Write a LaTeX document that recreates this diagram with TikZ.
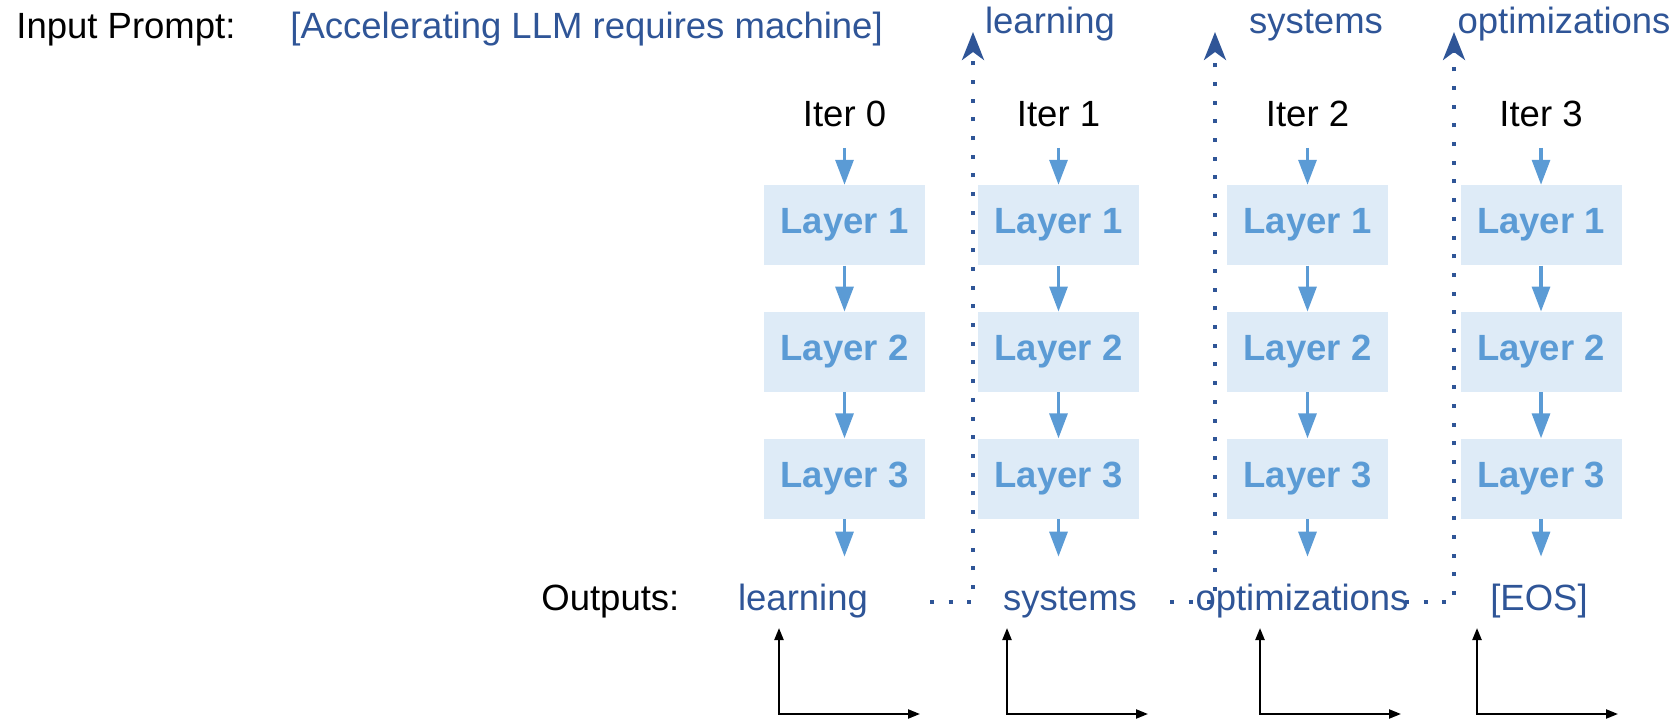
\documentclass[tikz,border=0pt]{standalone}
\usepackage{fontspec}
\setmainfont{Liberation Sans}
\usepackage{xcolor}
\usetikzlibrary{arrows.meta,positioning}

\definecolor{layerfill}{HTML}{DEEBF7}
\definecolor{layerblue}{HTML}{5B9BD5}
\definecolor{tokenblue}{HTML}{2F5597}

\begin{document}
\begin{tikzpicture}[
    x=0.5pt, y=-0.5pt,
    node distance=23pt,
    plaintext/.style={font=\fontsize{18.25}{22}\selectfont, inner sep=0pt, anchor=base},
    token/.style={plaintext, text=tokenblue},
    layer/.style={rectangle, fill=layerfill, text=layerblue, font=\fontsize{18.25}{22}\selectfont\bfseries, minimum width=80.5pt, minimum height=40pt, inner sep=0pt},
    flow/.style={-{Triangle[length=12.5pt, width=9pt]}, draw=layerblue, line width=1.6pt},
    feedback/.style={-{Stealth[length=14pt, width=11pt, inset=4pt]}, draw=tokenblue, line width=2pt, dash pattern=on 2pt off 7.35pt},
    axis/.style={{Triangle[length=6pt, width=4.5pt]}-{Triangle[length=6pt, width=4.5pt]}, line width=1.1pt}
]
\useasboundingbox (0,0) rectangle (1680,721);

% prompt and generated tokens
\node[plaintext, anchor=base west] (prompt) at (16,39) {Input Prompt:};
\node[token, anchor=base west] (ctx) at (290,39) {[Accelerating LLM requires machine]};
\node[token] (in1) at (1050,34) {learning};
\node[token] (in2) at (1316,34) {systems};
\node[token] (in3) at (1564,34) {optimizations};
\node[plaintext, anchor=base west] (outputs) at (541,610) {Outputs:};

% one column per iteration
\foreach \i/\x/\ox/\tok in {0/844.5/803/learning, 1/1058.5/1070/systems, 2/1307.5/1302/optimizations, 3/1541/1539/{[EOS]}} {
    \node[plaintext] (iter\i) at (\x,127) {Iter \i};
    \node[layer, below=28.5pt of iter\i] (lay1-\i) {Layer 1};
    \node[layer, below=of lay1-\i] (lay2-\i) {Layer 2};
    \node[layer, below=of lay2-\i] (lay3-\i) {Layer 3};
    \node[token, text height=13.5pt, text depth=4pt] (out\i) at (\ox,610) {\tok};
    \draw[flow, shorten <=10pt] (iter\i) -- (lay1-\i);
    \draw[flow] (lay1-\i) -- (lay2-\i);
    \draw[flow] (lay2-\i) -- (lay3-\i);
    \draw[flow, shorten >=13pt] (lay3-\i) -- (lay3-\i |- out\i.north);
}

% dotted feedback of each new token
\foreach \i/\s/\c in {1/930/973, 2/1170/1215, 3/1405/1454} {
    \coordinate (fb\i) at (\s,602);
    \coordinate (up\i) at (\c,32);
    \draw[feedback] (fb\i) -| (up\i);
}

% small axes under each output
\foreach \i/\ax in {0/779, 1/1007, 2/1260, 3/1477} {
    \coordinate (top\i) at (\ax,628);
    \coordinate (right\i) at (\ax+141,714);
    \draw[axis] (top\i) |- (right\i);
}

\end{tikzpicture}
\end{document}
